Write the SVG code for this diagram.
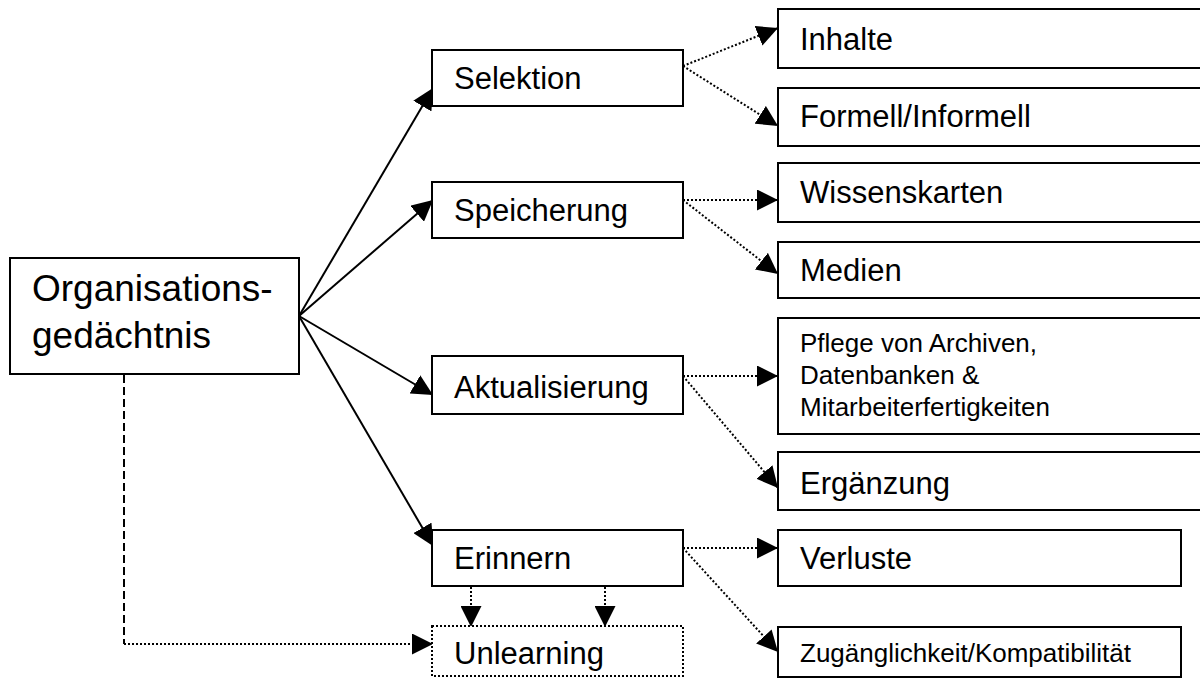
<svg xmlns="http://www.w3.org/2000/svg" width="1200" height="682" viewBox="0 0 1200 682">
  <style>
    .box { fill: #fff; stroke: #000; stroke-width: 2; }
    .dotbox { fill: #fff; stroke: #000; stroke-width: 2; stroke-dasharray: 2 2; }
    text { font-family: "Liberation Sans", Arial, sans-serif; fill: #000; }
    .big { font-size: 37px; }
    .mid { font-size: 31px; }
    .small { font-size: 26px; }
    .solid { stroke: #000; stroke-width: 2; fill: none; marker-end: url(#arrow); }
    .dotted { stroke: #000; stroke-width: 2; fill: none; stroke-dasharray: 2 2; marker-end: url(#arrow); }
    .dashed { stroke: #000; stroke-width: 2; fill: none; stroke-dasharray: 8 4; }
  </style>
  <defs>
    <marker id="arrow" markerUnits="userSpaceOnUse" markerWidth="21" markerHeight="21" refX="21" refY="10.5" orient="auto">
      <path d="M0,0 L21,10.5 L0,21 Z" fill="#000"/>
    </marker>
  </defs>
  <rect width="1200" height="682" fill="#fff"/>

  <g id="connectors">
    <!-- root to phases -->
    <line class="solid" x1="299" y1="316" x2="433" y2="88"/>
    <line class="solid" x1="299" y1="316" x2="433" y2="200"/>
    <line class="solid" x1="299" y1="316" x2="433" y2="395"/>
    <line class="solid" x1="299" y1="316" x2="433" y2="546"/>
    <!-- root to Unlearning -->
    <line class="dashed" x1="124" y1="375" x2="124" y2="644"/>
    <line class="dotted" x1="124" y1="644" x2="433" y2="644"/>
    <!-- phases to details -->
    <line class="dotted" x1="683" y1="66" x2="778" y2="28"/>
    <line class="dotted" x1="683" y1="66" x2="778" y2="126"/>
    <line class="dotted" x1="683" y1="200" x2="778" y2="200"/>
    <line class="dotted" x1="683" y1="200" x2="778" y2="274"/>
    <line class="dotted" x1="683" y1="376" x2="778" y2="376"/>
    <line class="dotted" x1="683" y1="376" x2="778" y2="488"/>
    <line class="dotted" x1="683" y1="548" x2="778" y2="548"/>
    <line class="dotted" x1="683" y1="548" x2="778" y2="652"/>
    <!-- Erinnern to Unlearning -->
    <line class="dotted" x1="471" y1="587" x2="471" y2="627"/>
    <line class="dotted" x1="605" y1="587" x2="605" y2="627"/>
  </g>

  <g id="organisationsgedaechtnis">
    <rect class="box" x="10" y="258" width="289" height="116"/>
    <text class="big" x="32" y="301">Organisations-</text>
    <text class="big" x="32" y="348">gedächtnis</text>
  </g>

  <g id="selektion">
    <rect class="box" x="432" y="50" width="251" height="56"/>
    <text class="mid" x="454" y="89">Selektion</text>
  </g>
  <g id="speicherung">
    <rect class="box" x="432" y="182" width="251" height="56"/>
    <text class="mid" x="454" y="221">Speicherung</text>
  </g>
  <g id="aktualisierung">
    <rect class="box" x="432" y="356" width="251" height="58"/>
    <text class="mid" x="454" y="398">Aktualisierung</text>
  </g>
  <g id="erinnern">
    <rect class="box" x="432" y="530" width="251" height="56"/>
    <text class="mid" x="454" y="569">Erinnern</text>
  </g>
  <g id="unlearning">
    <rect class="dotbox" x="432" y="626" width="251" height="50"/>
    <text class="mid" x="454" y="664">Unlearning</text>
  </g>

  <g id="inhalte">
    <rect class="box" x="778" y="9" width="440" height="59"/>
    <text class="mid" x="800" y="50">Inhalte</text>
  </g>
  <g id="formell-informell">
    <rect class="box" x="778" y="88" width="440" height="58"/>
    <text class="mid" x="800" y="127">Formell/Informell</text>
  </g>
  <g id="wissenskarten">
    <rect class="box" x="778" y="163" width="440" height="59"/>
    <text class="mid" x="800" y="203">Wissenskarten</text>
  </g>
  <g id="medien">
    <rect class="box" x="778" y="242" width="440" height="56"/>
    <text class="mid" x="800" y="281">Medien</text>
  </g>
  <g id="pflege">
    <rect class="box" x="778" y="318" width="440" height="116"/>
    <text class="small" x="800" y="352">Pflege von Archiven,</text>
    <text class="small" x="800" y="384">Datenbanken &amp;</text>
    <text class="small" x="800" y="416">Mitarbeiterfertigkeiten</text>
  </g>
  <g id="ergaenzung">
    <rect class="box" x="778" y="452" width="440" height="58"/>
    <text class="mid" x="800" y="494">Ergänzung</text>
  </g>
  <g id="verluste">
    <rect class="box" x="778" y="530" width="403" height="56"/>
    <text class="mid" x="800" y="569">Verluste</text>
  </g>
  <g id="zugaenglichkeit">
    <rect class="box" x="778" y="627" width="403" height="50"/>
    <text class="small" x="800" y="662">Zugänglichkeit/Kompatibilität</text>
  </g>
</svg>
